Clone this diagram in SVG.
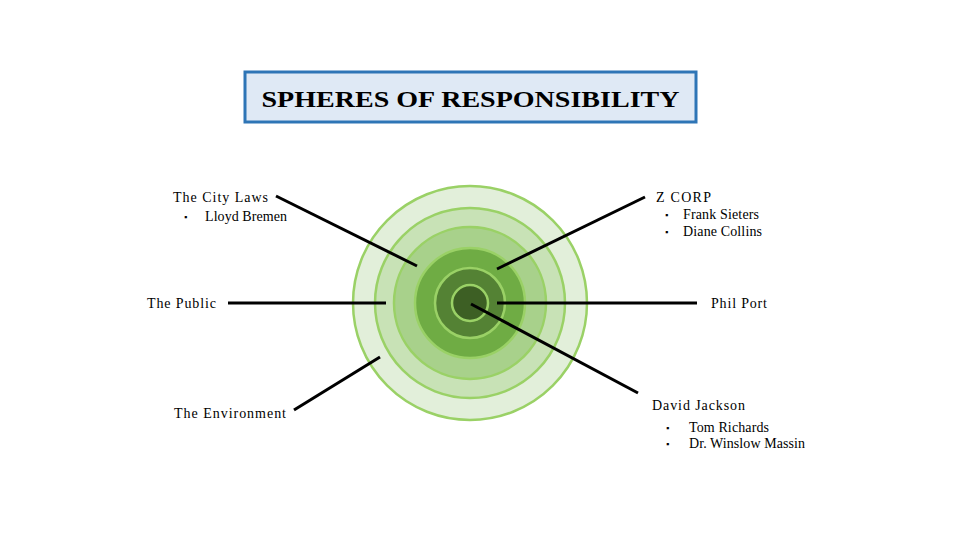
<svg xmlns="http://www.w3.org/2000/svg" width="960" height="540" viewBox="0 0 960 540">
<style>
.lbl{font-family:"Liberation Serif","Times New Roman",serif;font-size:14px;fill:#000}
.sub{font-family:"Liberation Serif","Times New Roman",serif;font-size:14px;fill:#000}
.bul{font-family:"Liberation Serif",serif;font-size:9px;fill:#000}
.ring{stroke:#9ad166;stroke-width:2.5}
.conn{stroke:#000;stroke-width:3;fill:none}
</style>
<rect width="960" height="540" fill="#fff"/>
<g id="title">
<rect x="245" y="72" width="451" height="50" fill="#dfe9f5" stroke="#2e75b6" stroke-width="3"/>
<text x="470.5" y="107" text-anchor="middle" font-family="Liberation Serif,serif" font-size="24" font-weight="bold" textLength="418" lengthAdjust="spacingAndGlyphs">SPHERES OF RESPONSIBILITY</text>
</g>
<g id="spheres">
<circle class="ring" cx="470" cy="303" r="117" fill="#e2efda"/>
<circle class="ring" cx="470" cy="303" r="95" fill="#c8e2b6"/>
<circle class="ring" cx="470" cy="303" r="76" fill="#a8d18b"/>
<circle class="ring" cx="470" cy="303" r="55" fill="#6fac44"/>
<circle class="ring" cx="470" cy="303" r="35" fill="#548234"/>
<circle class="ring" cx="470" cy="303" r="18" fill="#3d5f24"/>
</g>
<g id="connectors">
<line class="conn" x1="276" y1="196" x2="417" y2="266"/>
<line class="conn" x1="228" y1="303" x2="386" y2="303"/>
<line class="conn" x1="294" y1="410" x2="380" y2="357"/>
<line class="conn" x1="645" y1="197" x2="497" y2="269"/>
<line class="conn" x1="497" y1="303" x2="697" y2="303"/>
<line class="conn" x1="471" y1="304" x2="638" y2="393"/>
</g>
<g id="city-laws">
<text class="lbl" x="173" y="202" textLength="95" lengthAdjust="spacing">The City Laws</text>
<text class="bul" x="184" y="220">▪</text>
<text class="sub" x="205" y="221" textLength="82" lengthAdjust="spacing">Lloyd Bremen</text>
</g>
<g id="the-public">
<text class="lbl" x="147" y="308" textLength="69" lengthAdjust="spacing">The Public</text>
</g>
<g id="the-environment">
<text class="lbl" x="174" y="418" textLength="112" lengthAdjust="spacing">The Environment</text>
</g>
<g id="z-corp">
<text class="lbl" x="656" y="202" textLength="55" lengthAdjust="spacing">Z CORP</text>
<text class="bul" x="665" y="218">▪</text>
<text class="sub" x="683" y="219" textLength="76" lengthAdjust="spacing">Frank Sieters</text>
<text class="bul" x="665" y="235">▪</text>
<text class="sub" x="683" y="236" textLength="79" lengthAdjust="spacing">Diane Collins</text>
</g>
<g id="phil-port">
<text class="lbl" x="711" y="308" textLength="56" lengthAdjust="spacing">Phil Port</text>
</g>
<g id="david-jackson">
<text class="lbl" x="652" y="410" textLength="93" lengthAdjust="spacing">David Jackson</text>
<text class="bul" x="666" y="431">▪</text>
<text class="sub" x="689" y="432" textLength="80" lengthAdjust="spacing">Tom Richards</text>
<text class="bul" x="666" y="447">▪</text>
<text class="sub" x="689" y="448" textLength="116" lengthAdjust="spacing">Dr. Winslow Massin</text>
</g>
</svg>
